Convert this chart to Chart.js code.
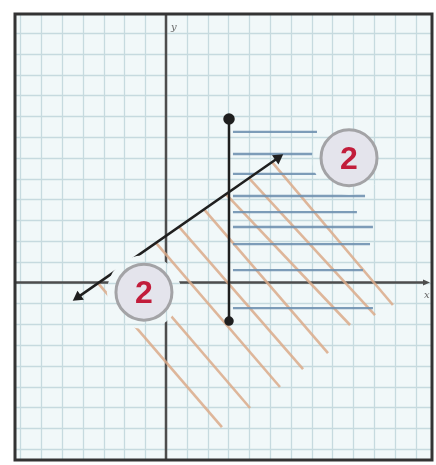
<!DOCTYPE html>
<html>
<head>
<meta charset="utf-8">
<script src="https://cdn.jsdelivr.net/npm/chart.js@4.4.1/dist/chart.umd.min.js"></script>
<style>
  html, body { margin: 0; padding: 0; background: #fff; }
  canvas { display: block; }
</style>
</head>
<body>
<canvas id="graph" width="436" height="465"></canvas>
<script>
// grid lines, one per unit
const xTicks = [-7, -6, -5, -4, -3, -2, -1, 0, 1, 2, 3, 4, 5, 6, 7, 8, 9, 10, 11, 12];
const yTicks = [-8, -7, -6, -5, -4, -3, -2, -1, 0, 1, 2, 3, 4, 5, 6, 7, 8, 9, 10, 11, 12];

// slanted boundary with arrows at both ends
const lineX = [-4.23, 5.38];
const lineY = [-0.70, 5.99];

// vertical boundary x = 3
const vertX = [3.03, 3.03];
const vertY = [7.86, -1.85];

// blue horizontal shading (right of x = 3)
const blueStartX = 3.22;
const blueY = [7.24, 6.18, 5.22, 4.16, 3.39, 2.67, 1.85, 0.60, -1.23];
const blueEndX = [7.26, 7.26, 7.26, 9.57, 9.18, 9.95, 9.81, 9.47, 9.95];

// orange diagonal shading (below the slanted line)
const orangeStartX = [-3.27, -1.92, -0.48, 0.63, 1.83, 2.88, 3.99, 5.10];
const orangeStartY = [-0.03, 0.91, 1.91, 2.68, 3.52, 4.25, 5.02, 5.79];
const orangeEndX = [2.69, 4.04, 5.48, 6.59, 7.79, 8.85, 10.05, 10.91];
const orangeEndY = [-6.95, -6.03, -5.02, -4.16, -3.39, -2.04, -1.56, -1.08];

// circled labels
const labelText = ['2', '2'];
const labelX = [8.8, -1.06];
const labelY = [6.0, -0.46];

const paperColor = '#f1f8f9';
const gridColor = '#c6dadf';

function drawGrid(chart) {
  const ctx = chart.ctx, a = chart.chartArea;
  const xs = chart.scales.x, ys = chart.scales.y;
  ctx.strokeStyle = gridColor;
  ctx.lineWidth = 1.3;
  xTicks.forEach(function(v) {
    const p = Math.round(xs.getPixelForValue(v)) + 0.5;
    ctx.beginPath(); ctx.moveTo(p, a.top); ctx.lineTo(p, a.bottom); ctx.stroke();
  });
  yTicks.forEach(function(v) {
    const p = Math.round(ys.getPixelForValue(v)) + 0.5;
    ctx.beginPath(); ctx.moveTo(a.left, p); ctx.lineTo(a.right, p); ctx.stroke();
  });
}

const paperPlugin = {
  id: 'paper',
  beforeDatasetsDraw(chart) {
    const ctx = chart.ctx, a = chart.chartArea;
    const x0 = chart.scales.x.getPixelForValue(0);
    const y0 = chart.scales.y.getPixelForValue(0);
    ctx.save();
    ctx.fillStyle = paperColor;
    ctx.fillRect(a.left, a.top, a.width, a.height);
    drawGrid(chart);
    // axes
    ctx.strokeStyle = '#4d4d4d';
    ctx.lineWidth = 2.5;
    ctx.beginPath(); ctx.moveTo(x0, a.top); ctx.lineTo(x0, a.bottom); ctx.stroke();
    ctx.beginPath(); ctx.moveTo(a.left, y0); ctx.lineTo(a.right - 6, y0); ctx.stroke();
    ctx.fillStyle = '#4d4d4d';
    ctx.beginPath();
    ctx.moveTo(a.right - 2, y0); ctx.lineTo(a.right - 9, y0 - 3); ctx.lineTo(a.right - 9, y0 + 3);
    ctx.fill();
    ctx.font = 'italic 10px "DejaVu Serif"';
    ctx.fillStyle = '#666';
    ctx.fillText('y', x0 + 5, a.top + 16);
    ctx.fillText('x', a.right - 8, y0 + 15);
    ctx.restore();
  },
  beforeDatasetDraw(chart, args) {
    if (args.index !== 0) return;
    // pale halo behind each circled label
    const ctx = chart.ctx;
    args.meta.data.forEach(function(pt) {
      ctx.save();
      ctx.beginPath();
      ctx.arc(pt.x, pt.y, 37, 0, Math.PI * 2);
      ctx.clip();
      ctx.fillStyle = paperColor;
      ctx.fillRect(pt.x - 40, pt.y - 40, 80, 80);
      drawGrid(chart);
      ctx.restore();
    });
  },
  afterDatasetsDraw(chart) {
    const ctx = chart.ctx;
    const meta = chart.getDatasetMeta(0);
    ctx.save();
    ctx.font = 'bold 32px "Liberation Sans"';
    ctx.fillStyle = '#c21d3b';
    ctx.textAlign = 'center';
    ctx.textBaseline = 'middle';
    meta.data.forEach(function(pt, i) {
      ctx.fillText(labelText[i], pt.x, pt.y + 2);
    });
    ctx.restore();
  },
  afterDraw(chart) {
    const ctx = chart.ctx, a = chart.chartArea;
    ctx.save();
    ctx.strokeStyle = '#333';
    ctx.lineWidth = 3;
    ctx.strokeRect(a.left, a.top, a.width, a.height);
    ctx.restore();
  }
};

function segment(x1, y1, x2, y2, color, width) {
  return {
    data: [{ x: x1, y: y1 }, { x: x2, y: y2 }],
    showLine: true,
    borderColor: color,
    borderWidth: width,
    pointRadius: 0
  };
}

const datasets = [];

// labels (index 0 is drawn on top)
datasets.push({
  data: labelX.map(function(v, i) { return { x: v, y: labelY[i] }; }),
  showLine: false,
  pointRadius: 28,
  pointBackgroundColor: '#e4e4ec',
  pointBorderColor: '#a3a3a6',
  pointBorderWidth: 3
});

datasets.push({
  data: [{ x: lineX[0], y: lineY[0] }, { x: lineX[1], y: lineY[1] }],
  showLine: true,
  borderColor: '#1f1f1f',
  borderWidth: 2.5,
  pointStyle: 'triangle',
  pointRadius: 4,
  pointRotation: [235, 55],
  pointBackgroundColor: '#1f1f1f',
  pointBorderColor: '#1f1f1f'
});

datasets.push({
  data: [{ x: vertX[0], y: vertY[0] }, { x: vertX[1], y: vertY[1] }],
  showLine: true,
  borderColor: '#1f1f1f',
  borderWidth: 2.5,
  pointRadius: [4.5, 3.5],
  pointBackgroundColor: '#1f1f1f',
  pointBorderColor: '#1f1f1f'
});

blueY.forEach(function(v, i) {
  datasets.push(segment(blueStartX, v, blueEndX[i], v, 'rgba(112,145,176,0.9)', 2.3));
});

orangeStartX.forEach(function(v, i) {
  datasets.push(segment(v, orangeStartY[i], orangeEndX[i], orangeEndY[i], 'rgba(218,170,138,0.85)', 2.6));
});

new Chart(document.getElementById('graph'), {
  type: 'scatter',
  data: { datasets: datasets },
  options: {
    responsive: false,
    animation: false,
    layout: { autoPadding: false, padding: { left: 15, top: 14, right: 4, bottom: 5 } },
    plugins: { legend: { display: false }, tooltip: { enabled: false } },
    scales: {
      x: { type: 'linear', display: false, min: -7.26, max: 12.79 },
      y: { type: 'linear', display: false, min: -8.53, max: 12.91 }
    }
  },
  plugins: [paperPlugin]
});
</script>
</body>
</html>
